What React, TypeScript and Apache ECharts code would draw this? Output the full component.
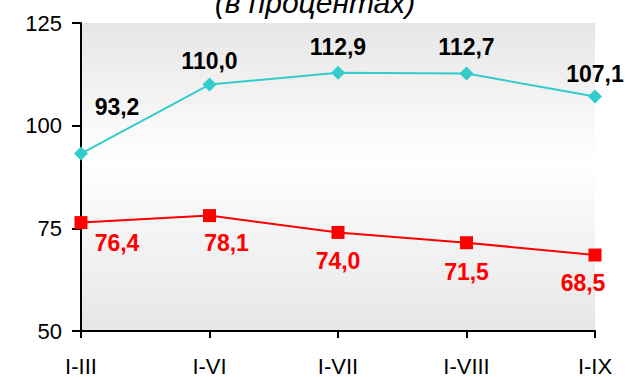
import React, { useEffect, useRef } from "react";
import * as echarts from "echarts";

const categories = ["I-III", "I-VI", "I-VII", "I-VIII", "I-IX"];
const cyanValues = [93.2, 110.0, 112.9, 112.7, 107.1];
const redValues = [76.4, 78.1, 74.0, 71.5, 68.5];
const yTicks = [50, 75, 100, 125];
const title = "(в процентах)";

const cyanOffsets = [[36, -47], [0, -24], [0, -26], [0, -27], [0, -23]];
const redOffsets = [[36, 20], [17, 27], [0, 29], [0, 29], [-12, 28]];

const fmt = (v: number) => v.toFixed(1).replace(".", ",");

export default function App() {
  const ref = useRef<HTMLDivElement>(null);
  useEffect(() => {
    const chart = echarts.init(ref.current!, null, { renderer: "svg" });
    chart.setOption({
      animation: false,
      textStyle: { fontFamily: "Liberation Sans, Arial, sans-serif" },
      graphic: [
        {
          type: "text",
          left: "center",
          top: -13,
          style: {
            text: title,
            font: "italic 30px 'Liberation Sans', Arial, sans-serif",
            fill: "#000",
          },
        },
      ],
      grid: {
        left: 81,
        right: 35,
        top: 23,
        bottom: 45,
        show: true,
        borderWidth: 0,
        backgroundColor: new echarts.graphic.LinearGradient(0, 0, 0, 1, [
          { offset: 0, color: "#e6e6e6" },
          { offset: 0.45, color: "#ffffff" },
          { offset: 1, color: "#e6e6e6" },
        ]),
      },
      xAxis: {
        type: "category",
        data: categories,
        boundaryGap: false,
        axisLine: { lineStyle: { color: "#000", width: 2 } },
        axisTick: { show: true, length: 7, lineStyle: { color: "#000", width: 2 }, alignWithLabel: true },
        axisLabel: { color: "#000", fontSize: 22, margin: 24 },
        splitLine: { show: false },
      },
      yAxis: {
        type: "value",
        min: yTicks[0],
        max: yTicks[yTicks.length - 1],
        interval: 25,
        axisLine: { show: true, lineStyle: { color: "#000", width: 2 } },
        axisTick: { show: true, length: 9, lineStyle: { color: "#000", width: 2 } },
        axisLabel: { color: "#000", fontSize: 22, margin: 19 },
        splitLine: { show: false },
      },
      series: [
        {
          type: "line",
          data: cyanValues.map((v, i) => ({
            value: v,
            label: { offset: cyanOffsets[i] },
          })),
          lineStyle: { color: "#33CCCC", width: 2 },
          itemStyle: { color: "#33CCCC" },
          symbol: "diamond",
          symbolSize: 14,
          label: {
            show: true,
            position: "inside",
            align: "center",
            verticalAlign: "middle",
            color: "#000",
            fontWeight: "bold",
            fontSize: 23,
            formatter: (p: any) => fmt(p.value),
          },
        },
        {
          type: "line",
          data: redValues.map((v, i) => ({
            value: v,
            label: { offset: redOffsets[i] },
          })),
          lineStyle: { color: "#FF0000", width: 2 },
          itemStyle: { color: "#FF0000" },
          symbol: "rect",
          symbolSize: 13,
          label: {
            show: true,
            position: "inside",
            align: "center",
            verticalAlign: "middle",
            color: "#FF0000",
            fontWeight: "bold",
            fontSize: 23,
            formatter: (p: any) => fmt(p.value),
          },
        },
      ],
    });
    return () => chart.dispose();
  }, []);
  return (
    <div
      ref={ref}
      style={{ position: "fixed", left: 0, top: 0, width: 630, height: 377, background: "#fff" }}
    />
  );
}
